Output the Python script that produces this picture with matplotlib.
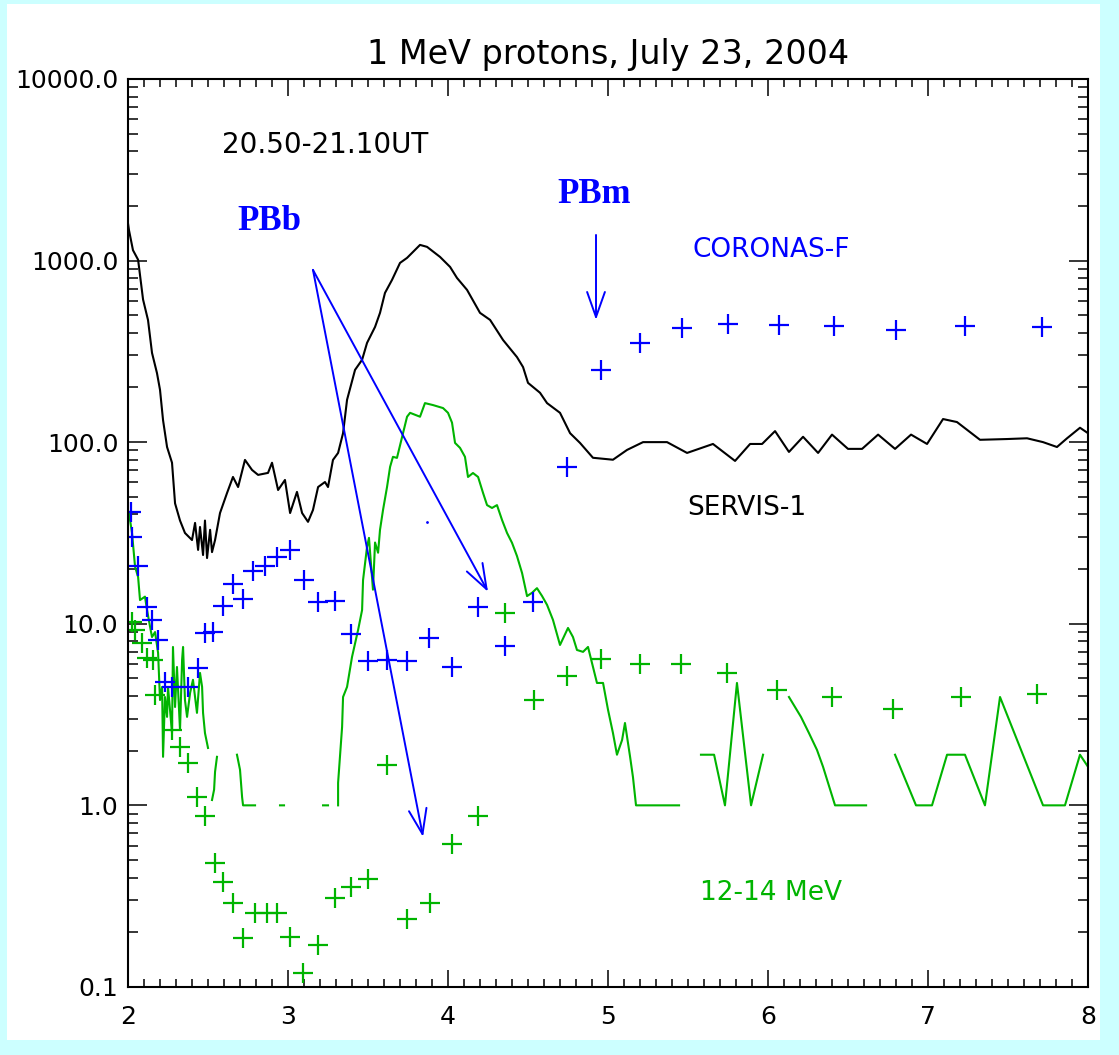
import numpy as np
import matplotlib.pyplot as plt
from matplotlib.patches import Rectangle
from matplotlib.ticker import MultipleLocator, LogLocator, NullFormatter

nan = np.nan

# SERVIS-1, 1 MeV protons (black line)
servis_t = [2.0, 2.006, 2.031, 2.063, 2.094, 2.125, 2.15, 2.181, 2.2, 2.219, 2.244,
            2.275, 2.294, 2.325, 2.356, 2.4, 2.419, 2.438, 2.45, 2.469, 2.481, 2.494,
            2.513, 2.525, 2.544, 2.575, 2.619, 2.656, 2.688, 2.731, 2.775, 2.813, 2.875,
            2.9, 2.938, 2.981, 3.013, 3.056, 3.088, 3.125, 3.156, 3.188, 3.231, 3.25,
            3.281, 3.313, 3.344, 3.369, 3.419, 3.463, 3.494, 3.544, 3.575, 3.606, 3.65,
            3.7, 3.744, 3.825, 3.869, 3.95, 4.013, 4.056, 4.119, 4.2, 4.263, 4.344,
            4.431, 4.469, 4.5, 4.575, 4.619, 4.7, 4.763, 4.825, 4.906, 5.031, 5.119,
            5.219, 5.325, 5.369, 5.494, 5.656, 5.794, 5.888, 5.963, 6.044, 6.131, 6.219,
            6.313, 6.4, 6.5, 6.588, 6.688, 6.794, 6.894, 6.994, 7.094, 7.181, 7.325,
            7.494, 7.619, 7.719, 7.806, 7.869, 7.95, 8.0]
servis_flux = [1600, 1470, 1140, 1010, 610, 470, 310, 240, 194, 132, 94,
               77, 46, 37, 31.6, 28.9, 35.9, 25.5, 34.1, 23.9, 37, 23,
               32.9, 24.8, 28.9, 40.7, 52.5, 64.3, 56.6, 79.8, 70.3, 66, 67.7,
               77, 54.5, 61.9, 40.7, 53.2, 40.7, 36.4, 42.3, 56.6, 60.3, 56.6,
               79.8, 87.2, 112, 171, 250, 284, 352, 431, 515, 663, 782,
               970, 1034, 1219, 1189, 1047, 922, 802, 689, 515, 471, 365,
               294, 259, 212, 187, 164, 145, 112, 99, 82, 80, 90.6,
               100, 100, 100, 87.2, 97.7, 78.8, 97.7, 97.7, 115, 88.3, 107,
               87.2, 110, 91.8, 91.8, 110, 91.8, 110, 97.7, 134, 129, 103,
               104, 105, 100, 94, 105, 120, 112]

# CORONAS-F, 1 MeV protons (blue crosses)
coronas_t = [2.019, 2.025, 2.063, 2.119, 2.15, 2.188, 2.231, 2.275, 2.375, 2.438,
             2.481, 2.531, 2.594, 2.656, 2.719, 2.781, 2.856, 2.931, 3.013, 3.1,
             3.188, 3.294, 3.394, 3.5, 3.619, 3.744, 3.881, 4.025, 4.188, 4.356,
             4.531, 4.744, 4.956, 5.2, 5.463, 5.75, 6.069, 6.413, 6.8, 7.231, 7.713]
coronas_flux = [41, 30, 20.8, 12.4, 10.5, 8.1, 4.8, 4.5, 4.5, 5.7,
                8.9, 9.0, 12.5, 16.6, 13.7, 19.5, 20.8, 23.3, 25.5, 17.4,
                13.2, 13.3, 8.8, 6.2, 6.3, 6.2, 8.35, 5.8, 12.4, 7.55,
                13.2, 73, 250, 352, 425, 448, 442, 436, 415, 436, 431]
coronas_dot_t = [3.869]
coronas_dot_flux = [36.4]

# 12-14 MeV protons, SERVIS-1 (green line, gaps where counts are zero)
green_t = [2.0, 2.006, 2.025, 2.044, 2.063, 2.075, 2.106, 2.119, 2.138, 2.15, 2.169,
           2.188, 2.2, 2.213, 2.219, 2.231, 2.244, 2.25, 2.275, 2.281, 2.294, 2.306,
           2.325, 2.338, 2.344, 2.356, 2.369, 2.388, 2.406, 2.431, 2.45, 2.463, 2.469,
           2.481, 2.5, nan,
           2.525, 2.538, 2.544, 2.556, nan,
           2.681, 2.7, 2.713, 2.719, 2.794, nan,
           2.95, 2.975, nan,
           3.219, 3.25, nan,
           3.313, 3.313, 3.338, 3.344, 3.369, 3.4, 3.438, 3.463, 3.469, 3.494, 3.506,
           3.525, 3.531, 3.544, 3.563, 3.575, 3.594, 3.619, 3.638, 3.656, 3.681, 3.713,
           3.744, 3.763, 3.825, 3.856, 3.906, 3.969, 4.0, 4.025, 4.044, 4.075, 4.106,
           4.125, 4.156, 4.188, 4.219, 4.244, 4.275, 4.306, 4.338, 4.369, 4.4, 4.431,
           4.463, 4.494, 4.525, 4.556, 4.588, 4.619, 4.656, 4.7, 4.75, 4.781, 4.806,
           4.844, 4.875, 4.906, 4.931, 4.969, 5.0, 5.031, 5.056, 5.088, 5.106, 5.138,
           5.156, 5.175, 5.444, nan,
           5.581, 5.663, 5.731, 5.806, 5.894, 5.969, nan,
           6.131, 6.206, 6.256, 6.306, 6.344, 6.419, 6.613, nan,
           6.794, 6.925, 7.025, 7.119, 7.231, 7.356, 7.45, 7.719, 7.856, 7.95, 8.0]
green_flux = [42, 40.7, 31.6, 20.6, 18.1, 13.5, 14.1, 11.9, 9.6, 8.45, 9.0,
              6.9, 3.8, 4.49, 1.85, 3.95, 3.07, 4.49, 2.5, 7.45, 3.48, 5.78,
              2.6, 6.32, 7.45, 3.8, 3.07, 4.16, 4.91, 3.23, 5.36, 4.49, 3.23,
              2.5, 2.07, nan,
              1.07, 1.22, 1.53, 1.85, nan,
              1.9, 1.57, 1.11, 1.0, 1.0, nan,
              1.0, 1.0, nan,
              1.0, 1.0, nan,
              1.0, 1.33, 2.7, 3.95, 4.49, 6.56, 9.24, 11.9, 17.4, 26.5, 29.7,
              18.1, 15.4, 28, 24.6, 32.9, 42.4, 56.7, 73.1, 83, 81.9, 107,
              138, 145, 138, 164, 160, 154, 145, 128, 99, 93, 83,
              64.3, 67.6, 64.3, 52.5, 45, 43.4, 45, 37.2, 31.6, 27.9, 23.6,
              19.0, 14.2, 14.8, 15.7, 14.2, 12.7, 10.5, 7.64, 9.48, 8.45, 7.17,
              7.0, 7.45, 5.78, 4.72, 4.72, 3.36, 2.5, 1.9, 2.29, 2.84, 1.85,
              1.43, 1.0, 1.0, nan,
              1.9, 1.9, 1.0, 4.72, 1.0, 1.9, nan,
              3.95, 3.07, 2.5, 2.02, 1.63, 1.0, 1.0, nan,
              1.9, 1.0, 1.0, 1.9, 1.9, 1.0, 3.95, 1.0, 1.0, 1.9, 1.63]

# 12-14 MeV protons, CORONAS-F (green crosses)
green_cross_t = [2.025, 2.044, 2.088, 2.119, 2.156, 2.169, 2.275, 2.325, 2.375, 2.431,
                 2.481, 2.544, 2.594, 2.656, 2.719, 2.794, 2.869, 2.931, 3.013, 3.094,
                 3.188, 3.294, 3.394, 3.5, 3.619, 3.744, 3.888, 4.025, 4.188, 4.356,
                 4.538, 4.744, 4.956, 5.2, 5.456, 5.744, 6.056, 6.4, 6.781, 7.206, 7.681]
green_cross_flux = [10.2, 9.25, 7.84, 6.48, 6.32, 4.05, 2.6, 2.1, 1.71, 1.11,
                    0.875, 0.482, 0.379, 0.29, 0.186, 0.255, 0.255, 0.255, 0.188, 0.119,
                    0.17, 0.309, 0.356, 0.394, 1.67, 0.236, 0.29, 0.612, 0.875, 11.5,
                    3.8, 5.16, 6.4, 6.0, 6.0, 5.36, 4.32, 3.95, 3.4, 3.95, 4.1]

# arrows: (start, tip) in data units
pbb_start = (3.156, 888)
pbb_tips = [(3.844, 0.67), (4.25, 15.0)]
pbm_start = (4.925, 1383)
pbm_tip = (4.925, 471)

blue = '#0000ff'
green = '#00b400'
plt.rcParams['font.family'] = ['DejaVu Sans']

fig = plt.figure(figsize=(11.19, 10.55), dpi=100, facecolor='#ccffff')
fig.patches.append(Rectangle((7 / 1119, 1 - 1040 / 1055), 1093 / 1119, 1036 / 1055,
                             transform=fig.transFigure, facecolor='white',
                             edgecolor='none', zorder=-1))
ax = fig.add_axes([0.1144, 0.0645, 0.8579, 0.8607])

ax.plot(servis_t, servis_flux, color='black', lw=1.5)
ax.plot(green_t, green_flux, color=green, lw=1.5)
ax.plot(coronas_t, coronas_flux, '+', color=blue, ms=14, mew=1.6, ls='none')
ax.plot(coronas_dot_t, coronas_dot_flux, '.', color=blue, ms=2)
ax.plot(green_cross_t, green_cross_flux, '+', color=green, ms=14, mew=1.6, ls='none')

arrow = dict(arrowstyle='->,head_length=0.9,head_width=0.32', color=blue, lw=1.4,
             shrinkA=0, shrinkB=0, mutation_scale=20)
for tip in pbb_tips:
    ax.annotate('', xy=tip, xytext=pbb_start, arrowprops=arrow)
ax.annotate('', xy=pbm_tip, xytext=pbm_start, arrowprops=arrow)

ax.set_yscale('log')
ax.set_xlim(2, 8)
ax.set_ylim(0.1, 10000)
ax.set_xticks([2, 3, 4, 5, 6, 7, 8])
ax.set_xticklabels(['2', '3', '4', '5', '6', '7', '8'])
ax.set_yticks([0.1, 1, 10, 100, 1000, 10000])
ax.set_yticklabels(['0.1', '1.0', '10.0', '100.0', '1000.0', '10000.0'])
ax.xaxis.set_minor_locator(MultipleLocator(0.1))
ax.yaxis.set_minor_locator(LogLocator(base=10, subs=np.arange(2, 10), numticks=20))
ax.yaxis.set_minor_formatter(NullFormatter())

ax.tick_params(which='both', direction='in', top=True, right=True, width=1.1,
               labelsize=18, colors='black')
ax.tick_params(axis='x', which='major', length=12, pad=13)
ax.tick_params(axis='x', which='minor', length=6)
ax.tick_params(axis='y', which='major', length=14, pad=7)
ax.tick_params(axis='y', which='minor', length=7)
for s in ax.spines.values():
    s.set_linewidth(1.5)

ax.set_title('1 MeV protons, July 23, 2004', fontsize=24, pad=11)

ax.text(2.588, 4330, '20.50-21.10UT', fontsize=20, va='center', ha='left')
ax.text(2.681, 1632, 'PBb', fontsize=25, color=blue, fontweight='bold',
        family='Liberation Serif', va='center', ha='left')
ax.text(4.681, 2296, 'PBm', fontsize=25, color=blue, fontweight='bold',
        family='Liberation Serif', va='center', ha='left')
ax.text(5.525, 1145, 'CORONAS-F', fontsize=19, color=blue, va='center', ha='left')
ax.text(5.494, 43.4, 'SERVIS-1', fontsize=19, color='black', va='center', ha='left')
ax.text(5.575, 0.33, '12-14 MeV', fontsize=19, color=green, va='center', ha='left')

fig.savefig('out.png', dpi=100, facecolor=fig.get_facecolor())
